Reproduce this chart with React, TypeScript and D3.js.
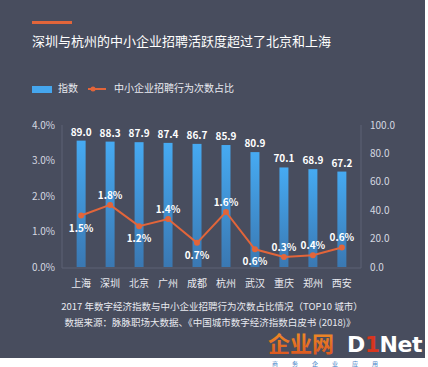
import React from 'react';
import * as d3 from 'd3';

const cities = ['上海', '深圳', '北京', '广州', '成都', '杭州', '武汉', '重庆', '郑州', '西安'];
const indexValues = [89.0, 88.3, 87.9, 87.4, 86.7, 85.9, 80.9, 70.1, 68.9, 67.2];
const shareValues = [1.45, 1.75, 1.15, 1.35, 0.68, 1.55, 0.5, 0.28, 0.33, 0.55];
const shareLabels = ['1.5%', '1.8%', '1.2%', '1.4%', '0.7%', '1.6%', '0.6%', '0.3%', '0.4%', '0.6%'];
const labelBelow = [true, false, true, false, true, false, true, false, false, false];
const leftTicks = [0, 1, 2, 3, 4];
const rightTicks = [0, 20, 40, 60, 80, 100];

const FONT = '"Noto Sans CJK SC", "Noto Sans", sans-serif';
const BG = '#484d5e';
const ORANGE = '#e2653a';

const App = () => {
  const W = 428, H = 367;
  const top = 125, bottom = 267;

  const x = d3.scaleBand().domain(cities).range([66.5, 356.5]).paddingInner(0.69).paddingOuter(0.35);
  const xc = (c: string) => (x(c) as number) + x.bandwidth() / 2;
  const yL = d3.scaleLinear().domain([0, 4]).range([bottom, top]);
  const yR = d3.scaleLinear().domain([0, 100]).range([bottom, top]);

  const line = d3.line<number>()
    .x((_, i) => xc(cities[i]))
    .y(d => yL(d));

  return (
    <svg width={W} height={H} style={{ position: 'absolute', left: 0, top: 0, display: 'block' }}>
      <defs>
        <linearGradient id="barGrad" x1="0" y1="0" x2="0" y2="1">
          <stop offset="0%" stopColor="#46aaf2" />
          <stop offset="100%" stopColor="#3a78b2" />
        </linearGradient>
        <linearGradient id="logoGrad" x1="0" y1="0" x2="0" y2="1">
          <stop offset="0%" stopColor="#f39a2a" />
          <stop offset="100%" stopColor="#d9501e" />
        </linearGradient>
      </defs>
      <rect x={0} y={0} width={W} height={H} fill="#ffffff" />
      <rect x={0} y={0} width={425} height={358} fill={BG} />

      {/* title */}
      <rect x={32} y={21} width={40} height={3} fill={ORANGE} />
      <text x={32} y={46} fill="#ffffff" fontSize={13} fontFamily={FONT}>
        深圳与杭州的中小企业招聘活跃度超过了北京和上海
      </text>

      {/* legend */}
      <rect x={32} y={86} width={20} height={7} fill="#45a6ee" />
      <text x={58} y={92} fill="#e8eaf0" fontSize={10} fontFamily={FONT}>指数</text>
      <line x1={88} x2={106} y1={89} y2={89} stroke={ORANGE} strokeWidth={2} />
      <circle cx={93} cy={89} r={2.5} fill={ORANGE} />
      <text x={114} y={92} fill="#e8eaf0" fontSize={10} fontFamily={FONT}>中小企业招聘行为次数占比</text>

      {/* axes */}
      <line x1={62} x2={62} y1={top} y2={bottom + 1} stroke="#5d6274" strokeWidth={1} />
      <line x1={361} x2={361} y1={top} y2={bottom + 1} stroke="#5d6274" strokeWidth={1} />
      <line x1={62} x2={361} y1={bottom + 1} y2={bottom + 1} stroke="#5d6274" strokeWidth={1} />
      {leftTicks.map(t => (
        <text key={'l' + t} x={55} y={yL(t) + 3.5} textAnchor="end" fill="#d5d8e0" fontSize={10} fontFamily={FONT}>
          {t.toFixed(1)}%
        </text>
      ))}
      {rightTicks.map(t => (
        <text key={'r' + t} x={370} y={yR(t) + 3.5} fill="#d5d8e0" fontSize={10} fontFamily={FONT}>
          {t.toFixed(1)}
        </text>
      ))}

      {/* bars */}
      {cities.map((c, i) => (
        <g key={c}>
          <rect x={x(c)} y={yR(indexValues[i])} width={x.bandwidth()} height={bottom - yR(indexValues[i])} fill="url(#barGrad)" />
          <text x={xc(c)} y={yR(indexValues[i]) - 5} textAnchor="middle" fill="#ffffff" fontSize={10} fontWeight="bold" fontFamily={FONT}>
            {indexValues[i].toFixed(1)}
          </text>
          <text x={xc(c)} y={287} textAnchor="middle" fill="#e8eaf0" fontSize={10} fontFamily={FONT}>{c}</text>
        </g>
      ))}

      {/* line */}
      <path d={line(shareValues) || ''} fill="none" stroke={ORANGE} strokeWidth={2} />
      {shareValues.map((v, i) => (
        <g key={'p' + i}>
          <circle cx={xc(cities[i])} cy={yL(v)} r={3} fill={ORANGE} />
          <text x={xc(cities[i])} y={labelBelow[i] ? yL(v) + 16 : yL(v) - 6} textAnchor="middle" fill="#ffffff" fontSize={10} fontWeight="bold" fontFamily={FONT}>
            {shareLabels[i]}
          </text>
        </g>
      ))}

      {/* caption */}
      <text x={212} y={310} textAnchor="middle" fill="#e8eaf0" fontSize={9.5} fontFamily={FONT}>
        2017 年数字经济指数与中小企业招聘行为次数占比情况（TOP10 城市）
      </text>
      <text x={210} y={326} textAnchor="middle" fill="#e8eaf0" fontSize={9.5} fontFamily={FONT}>
        数据来源：脉脉职场大数据、《中国城市数字经济指数白皮书 (2018)》
      </text>

      {/* watermark */}
      <text x={268} y={352} fill="url(#logoGrad)" fontSize={22} fontWeight="bold" fontFamily={FONT}>企业网</text>
      <text x={347} y={352} fill="#ffffff" fontSize={22} fontWeight="bold" fontFamily='"DejaVu Sans", sans-serif' letterSpacing={-0.5}>
        D<tspan fill="#d8361e">1</tspan>Net
      </text>
      <text x={272} y={366} fill="#4a86c8" fontSize={6} fontFamily={FONT} letterSpacing={14}>商务企业应用</text>
    </svg>
  );
};

export default App;
